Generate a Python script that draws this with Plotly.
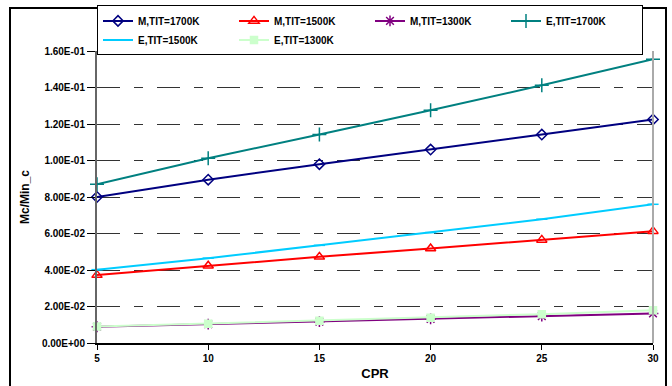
import plotly.graph_objects as go

cpr = [5, 10, 15, 20, 25, 30]
m_1700 = [0.0800, 0.0895, 0.0980, 0.1060, 0.1142, 0.1225]
m_1500 = [0.0372, 0.0423, 0.0472, 0.0518, 0.0565, 0.0613]
m_1300 = [0.0089, 0.0103, 0.0117, 0.0132, 0.0147, 0.0162]
e_1700 = [0.0870, 0.1012, 0.1143, 0.1275, 0.1412, 0.1555]
e_1500 = [0.0402, 0.0465, 0.0535, 0.0605, 0.0678, 0.0760]
e_1300 = [0.0090, 0.0106, 0.0122, 0.0139, 0.0158, 0.0180]

series = [
    ("M,TIT=1700K", m_1700, "#000080", "diamond-open", 8),
    ("M,TIT=1500K", m_1500, "#FF0000", "triangle-up-open", 9),
    ("M,TIT=1300K", m_1300, "#800080", "asterisk-open", 9),
    ("E,TIT=1700K", e_1700, "#008080", "cross-thin-open", 10),
    ("E,TIT=1500K", e_1500, "#00CCFF", "line-ew-open", 8),
    ("E,TIT=1300K", e_1300, "#CCFFCC", "square", 7),
]

ytick_vals = [0, 0.02, 0.04, 0.06, 0.08, 0.10, 0.12, 0.14, 0.16]
ytick_text = ["0.00E+00", "2.00E-02", "4.00E-02", "6.00E-02", "8.00E-02",
              "1.00E-01", "1.20E-01", "1.40E-01", "1.60E-01"]

fig = go.Figure()
for name, vals, color, sym, size in series:
    fig.add_trace(go.Scatter(
        x=cpr, y=vals, name=name, mode="lines+markers",
        line=dict(color=color, width=2),
        marker=dict(symbol=sym, size=size, color=color,
                    line=dict(color=color, width=1.5)),
        cliponaxis=False,
    ))

fig.update_layout(
    width=672, height=386,
    margin=dict(l=97, r=19, t=51, b=43, autoexpand=False),
    paper_bgcolor="white", plot_bgcolor="white",
    font=dict(family="Liberation Sans, Arial", size=10, color="black"),
    showlegend=True,
    legend=dict(
        orientation="h", x=0, xanchor="left", y=0.985, yanchor="bottom",
        entrywidth=91, entrywidthmode="pixels",
        bgcolor="white", bordercolor="black", borderwidth=1,
        font=dict(size=10, family="Liberation Sans, Arial", weight="bold"),
        tracegroupgap=0, itemwidth=30,
    ),
    xaxis=dict(
        range=[5, 30], tickvals=cpr, ticktext=[str(v) for v in cpr],
        showgrid=False, zeroline=False, automargin=False,
        showline=True, linecolor="black", linewidth=2,
        ticks="outside", ticklen=5, tickcolor="black",
        tickfont=dict(size=10, weight="bold"),
        title=dict(text="CPR", font=dict(size=13, weight="bold"), standoff=6),
    ),
    yaxis=dict(
        range=[0, 0.16], tickvals=ytick_vals, ticktext=ytick_text,
        showgrid=True, gridcolor="#333333", gridwidth=1,
        griddash="23px,14px,9px,14px",
        zeroline=False, automargin=False,
        showline=True, linecolor="#666666", linewidth=2,
        ticks="outside", ticklen=8, tickcolor="black",
        tickfont=dict(size=10, weight="bold"),
        title=dict(text="Mc/Min_c", font=dict(size=12, weight="bold"), standoff=10),
    ),
    shapes=[
        dict(type="line", xref="paper", yref="paper", x0=1, x1=1, y0=0, y1=1,
             line=dict(color="#AAAAAA", width=2)),
        dict(type="rect", xref="paper", yref="paper",
             x0=(10 - 97) / 556, x1=(666 - 97) / 556,
             y0=(343 - 392) / 292, y1=(343 - 8) / 292,
             line=dict(color="black", width=2), fillcolor="rgba(0,0,0,0)",
             layer="below"),
    ],
)

fig.write_html("out.html")
